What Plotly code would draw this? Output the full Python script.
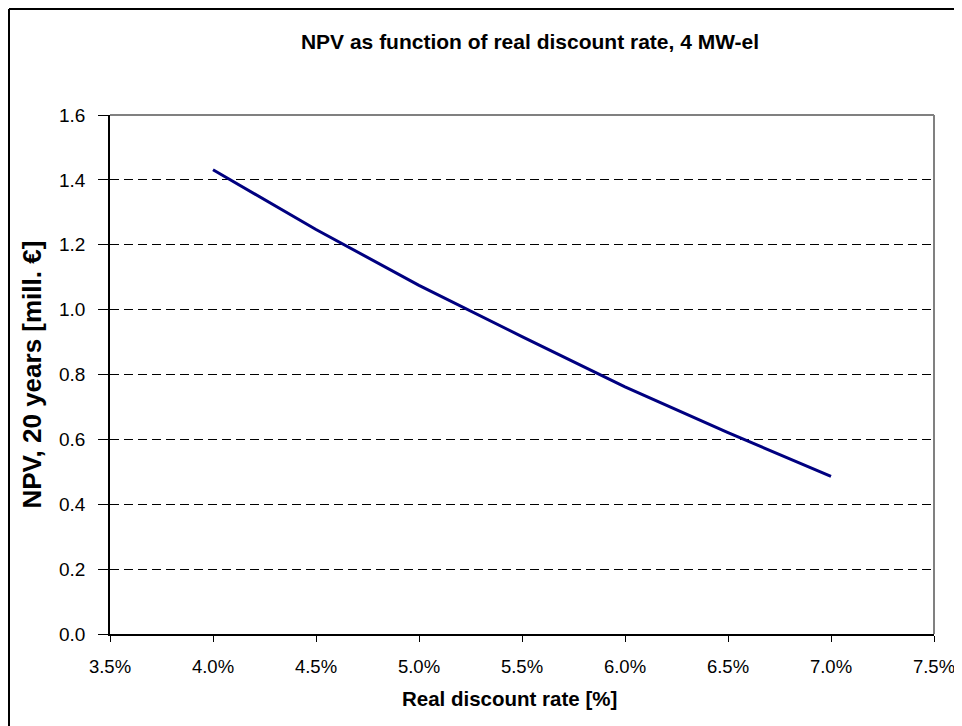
import plotly.graph_objects as go

# Data
discount_rate = [0.040, 0.045, 0.050, 0.055, 0.060, 0.065, 0.070]
npv_mill_eur = [1.431, 1.247, 1.075, 0.917, 0.762, 0.621, 0.486]

title_text = "NPV as function of real discount rate, 4 MW-el"
x_title = "Real discount rate [%]"
y_title = "NPV, 20 years [mill. €]"

FONT = "Liberation Sans, Arial, sans-serif"

L, T, PW, PH = 102, 107, 824, 519
W, H = 962, 726

fig = go.Figure()
fig.add_trace(go.Scatter(
    x=discount_rate, y=npv_mill_eur, mode="lines",
    line=dict(color="#000080", width=3),
    showlegend=False, hoverinfo="skip",
))

fig.update_layout(
    width=W, height=H,
    margin=dict(l=L, r=W - L - PW, t=T, b=H - T - PH),
    paper_bgcolor="white", plot_bgcolor="white",
    font=dict(family=FONT, color="black", size=14),
    title=dict(text="<b>" + title_text + "</b>", x=522 / W, xanchor="center",
               y=1 - 34 / H, yanchor="middle",
               font=dict(family=FONT, size=21, color="black")),
    xaxis=dict(
        range=[0.035, 0.075], tick0=0.035, dtick=0.005, tickformat=".1%",
        showgrid=False, zeroline=False,
        showline=True, linecolor="black", linewidth=1.5,
        ticks="outside", ticklen=6, tickcolor="black", tickwidth=1.2,
        ticklabelstandoff=9,
        tickfont=dict(family=FONT, size=18.5, color="black"),
    ),
    yaxis=dict(
        range=[0, 1.6], tick0=0, dtick=0.2, tickformat=".1f",
        showgrid=True, gridcolor="black", gridwidth=1, griddash="9px,5px",
        zeroline=False,
        showline=True, linecolor="black", linewidth=1.5,
        ticks="outside", ticklen=10, tickcolor="black", tickwidth=1.2,
        ticklabelstandoff=9,
        tickfont=dict(family=FONT, size=19, color="black"),
    ),
    annotations=[
        dict(text="<b>" + x_title + "</b>", xref="paper", yref="paper",
             x=(501 - L) / PW, y=-64 / PH, xanchor="center", yanchor="middle",
             showarrow=False, font=dict(family=FONT, size=20.5, color="black")),
        dict(text="<b>" + y_title + "</b>", xref="paper", yref="paper",
             x=(23 - L) / PW, y=0.5, xanchor="center", yanchor="middle",
             textangle=-90, showarrow=False,
             font=dict(family=FONT, size=26, color="black")),
    ],
    shapes=[
        # gray top/right plot border
        dict(type="line", xref="paper", yref="paper", x0=0, x1=1, y0=1, y1=1,
             line=dict(color="#808080", width=2), layer="above"),
        dict(type="line", xref="paper", yref="paper", x0=1, x1=1, y0=0, y1=1,
             line=dict(color="#808080", width=2), layer="above"),
        # outer chart border (partly cut off on right/bottom)
        dict(type="line", xref="paper", yref="paper",
             x0=(1 - L) / PW, x1=1.3, y0=1 + (T - 1) / PH, y1=1 + (T - 1) / PH,
             line=dict(color="black", width=2), layer="above"),
        dict(type="line", xref="paper", yref="paper",
             x0=(1 - L) / PW, x1=(1 - L) / PW, y0=-0.3, y1=1 + (T - 1) / PH,
             line=dict(color="black", width=2), layer="above"),
    ],
)

fig.write_html("out.html")
